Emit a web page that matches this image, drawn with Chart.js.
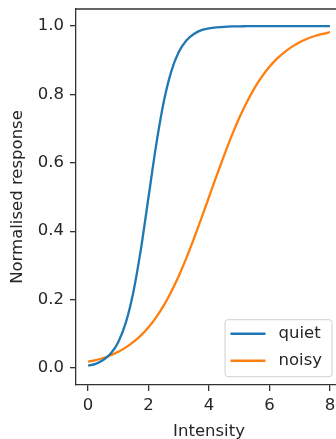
<!DOCTYPE html>
<html lang="en">
<head>
    <meta charset="UTF-8">
    <title>Normalised response</title>
    <script src="https://cdn.jsdelivr.net/npm/chart.js"></script>
    <style>
        html, body { margin: 0; padding: 0; background: #fff; overflow: hidden; }
        #wrap { position: absolute; left: 0; top: 0; width: 350px; height: 439px; }
    </style>
</head>
<body>
    <div id="wrap">
        <canvas id="grafico" width="350" height="439"></canvas>
    </div>

    <script>
        const intensity = [0, 0.25, 0.5, 0.75, 1, 1.25, 1.5, 1.75, 2, 2.25, 2.5, 2.75, 3, 3.25, 3.5, 3.75,
            4, 4.25, 4.5, 4.75, 5, 5.25, 5.5, 5.75, 6, 6.25, 6.5, 6.75, 7, 7.25, 7.5, 7.75, 8];
        const quiet = [0.007, 0.012, 0.023, 0.042, 0.076, 0.133, 0.223, 0.349, 0.500, 0.651, 0.777, 0.867,
            0.924, 0.958, 0.977, 0.988, 0.993, 0.996, 0.998, 0.999, 0.999, 1, 1, 1, 1, 1, 1, 1, 1, 1, 1, 1, 1];
        const noisy = [0.018, 0.023, 0.029, 0.037, 0.047, 0.060, 0.076, 0.095, 0.119, 0.148, 0.182, 0.223,
            0.269, 0.321, 0.378, 0.438, 0.500, 0.562, 0.622, 0.679, 0.731, 0.777, 0.818, 0.852, 0.881,
            0.905, 0.924, 0.940, 0.953, 0.963, 0.971, 0.977, 0.982];
        const xTicks = [0, 2, 4, 6, 8];
        const yTicks = [0, 0.2, 0.4, 0.6, 0.8, 1.0];

        const FS = 16.5;
        const INK = '#262626';
        const SPINE = '#333';
        Chart.defaults.font.family = '"DejaVu Sans", sans-serif';
        Chart.defaults.font.size = FS;
        Chart.defaults.color = INK;

        const toPoints = (ys) => intensity.map((x, i) => ({ x: x, y: ys[i] }));

        // top/right spines + matplotlib-like legend box
        const moldura = {
            id: 'moldura',
            afterDraw(chart) {
                const { ctx, chartArea: a } = chart;
                ctx.save();
                ctx.strokeStyle = SPINE;
                ctx.lineWidth = 1.3;
                ctx.beginPath();
                ctx.moveTo(a.left, a.top);
                ctx.lineTo(a.right, a.top);
                ctx.lineTo(a.right, a.bottom);
                ctx.stroke();

                // legend, lower right
                const ds = chart.data.datasets;
                ctx.font = FS + 'px "DejaVu Sans"';
                const textW = Math.max(...ds.map(d => ctx.measureText(d.label).width));
                const w = 5.5 + 35 + 13 + textW + 10;
                const h = 57;
                const x0 = a.right - 10 - w;
                const y0 = a.bottom - 8.3 - h;
                ctx.beginPath();
                ctx.roundRect(x0, y0, w, h, 3);
                ctx.fillStyle = 'rgba(255,255,255,0.8)';
                ctx.fill();
                ctx.strokeStyle = '#d0d0d0';
                ctx.lineWidth = 1;
                ctx.stroke();
                ds.forEach((d, i) => {
                    const cy = y0 + 14 + i * 27;
                    ctx.strokeStyle = d.borderColor;
                    ctx.lineWidth = 2.5;
                    ctx.beginPath();
                    ctx.moveTo(x0 + 5.5, cy);
                    ctx.lineTo(x0 + 40.5, cy);
                    ctx.stroke();
                    ctx.fillStyle = INK;
                    ctx.textBaseline = 'middle';
                    ctx.textAlign = 'left';
                    ctx.fillText(d.label, x0 + 53.5, cy);
                });
                ctx.restore();
            }
        };

        const eixo = {
            display: true,
            drawOnChartArea: false,
            drawTicks: true,
            tickLength: 6,
            color: SPINE,
            lineWidth: 1.3
        };

        const semFolga = s => {
            s.paddingTop = 0; s.paddingBottom = 0; s.paddingLeft = 0; s.paddingRight = 0;
        };

        const grafico = new Chart(document.getElementById('grafico').getContext('2d'), {
            type: 'line',
            data: {
                datasets: [
                    {
                        label: 'quiet',
                        data: toPoints(quiet),
                        borderColor: '#1f77b4',
                        borderWidth: 2.3,
                        pointRadius: 0,
                        cubicInterpolationMode: 'monotone',
                        fill: false
                    },
                    {
                        label: 'noisy',
                        data: toPoints(noisy),
                        borderColor: '#ff7f0e',
                        borderWidth: 2.3,
                        pointRadius: 0,
                        cubicInterpolationMode: 'monotone',
                        fill: false
                    }
                ]
            },
            options: {
                responsive: false,
                animation: false,
                events: [],
                layout: { padding: { top: 9, right: 8, left: 0, bottom: 0 } },
                plugins: {
                    legend: { display: false },
                    tooltip: { enabled: false }
                },
                scales: {
                    x: {
                        type: 'linear',
                        min: -0.4,
                        max: 8.4,
                        grid: eixo,
                        border: { display: true, color: SPINE, width: 1.3 },
                        ticks: { padding: 5, maxRotation: 0, callback: v => String(v) },
                        afterBuildTicks: s => { s.ticks = xTicks.map(v => ({ value: v })); },
                        afterFit: s => { s.height = 54; semFolga(s); },
                        title: {
                            display: true,
                            text: 'Intensity',
                            color: INK,
                            padding: { top: 0, bottom: -3 }
                        }
                    },
                    y: {
                        type: 'linear',
                        min: -0.05,
                        max: 1.05,
                        grid: eixo,
                        border: { display: true, color: SPINE, width: 1.3 },
                        ticks: { padding: 6, callback: v => v.toFixed(1) },
                        afterBuildTicks: s => { s.ticks = yTicks.map(v => ({ value: v })); },
                        afterFit: s => { s.width = 76; semFolga(s); },
                        title: {
                            display: true,
                            text: 'Normalised response',
                            color: INK,
                            padding: { top: 8, bottom: 0 }
                        }
                    }
                }
            },
            plugins: [moldura]
        });
    </script>
</body>
</html>
